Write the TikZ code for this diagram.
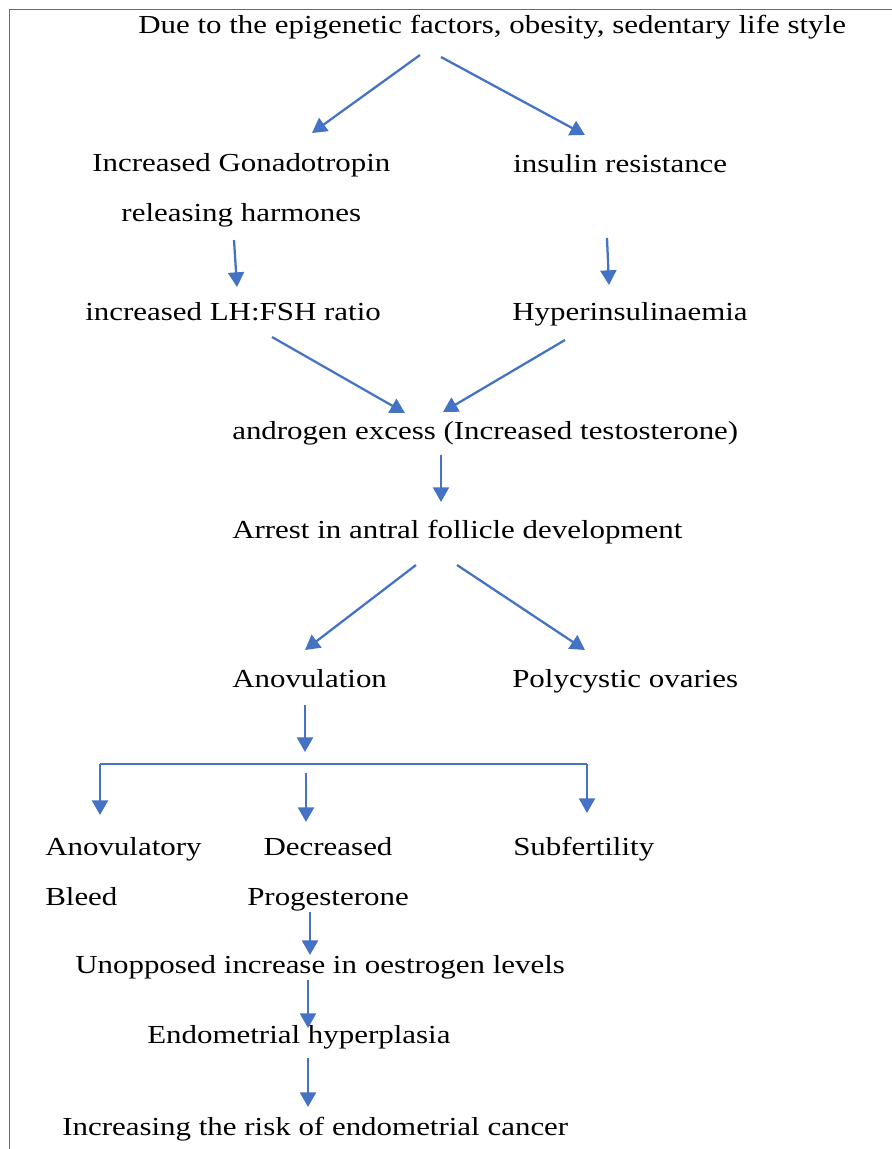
\documentclass[tikz,border=0pt]{standalone}
\usepackage{fontspec}
\setmainfont{Liberation Serif}[FakeStretch=1.19]
\definecolor{flowblue}{RGB}{68,114,196}
\definecolor{framegray}{RGB}{105,105,105}
\usetikzlibrary{arrows.meta,calc}

\begin{document}
\begin{tikzpicture}[x=0.75pt,y=-0.75pt,
  txt/.style={anchor=base west, inner sep=0pt, font={\fontsize{19.5}{37.5}\selectfont}},
  link/.style={flowblue, line width=1.7pt},
  arr/.style={link, -{Triangle[width=12pt,length=11pt]}}]
  \useasboundingbox (0,0) rectangle (892,1149);
  % Frame
  \draw[framegray, line width=1.1pt] (892,9.5) -- (9.5,9.5) -- (9.5,1149);
  % Causes
  \node[txt] (top) at (138,34) {Due to the epigenetic factors, obesity, sedentary life style};
  \node[txt, align=center] (gnrh) at (92,221) {Increased Gonadotropin\\releasing harmones};
  \node[txt] (insres) at (513,172) {insulin resistance};
  \node[txt] (lhfsh) at (85,320) {increased LH:FSH ratio};
  \node[txt] (hyperins) at (512,320) {Hyperinsulinaemia};
  \node[txt] (androgen) at (232,439) {androgen excess (Increased testosterone)};
  \node[txt] (arrest) at (232,538) {Arrest in antral follicle development};
  \node[txt] (anov) at (232,687) {Anovulation};
  \node[txt] (pco) at (512,687) {Polycystic ovaries};
  % Consequences
  \node[txt, align=left] (anobleed) at (45,905) {Anovulatory\\Bleed};
  \node[txt, align=center] (lowprog) at (247,905) {Decreased\\Progesterone};
  \node[txt] (subfert) at (513,855) {Subfertility};
  \node[txt] (oestrogen) at (75,973) {Unopposed increase in oestrogen levels};
  \node[txt] (hyperpl) at (147,1043) {Endometrial hyperplasia};
  \node[txt] (cancer) at (62,1135) {Increasing the risk of endometrial cancer};
  % Arrows
  \draw[arr] ($(top.base west)+(282,21)$) -- ($(gnrh.base west)+(220,-88)$);
  \draw[arr] ($(top.base west)+(303,23)$) -- ($(insres.base west)+(72,-37)$);
  \draw[arr] ($(gnrh.base west)+(142,19)$) -- ($(lhfsh.base west)+(152,-33)$);
  \draw[arr] ($(insres.base west)+(94,66)$) -- ($(hyperins.base west)+(97,-35)$);
  \draw[arr] ($(lhfsh.base west)+(187,17)$) -- ($(androgen.base west)+(173,-26)$);
  \draw[arr] ($(hyperins.base west)+(53,20)$) -- ($(androgen.base west)+(211,-27)$);
  \draw[arr] ($(androgen.base west)+(209,16)$) -- ($(arrest.base west)+(209,-36)$);
  \draw[arr] ($(arrest.base west)+(184,27)$) -- ($(anov.base west)+(73,-37)$);
  \draw[arr] ($(arrest.base west)+(225,27)$) -- ($(pco.base west)+(73,-37)$);
  % Split below anovulation
  \coordinate (split) at (305,752);
  \coordinate (busL) at (100,764);
  \coordinate (busR) at (587,764);
  \draw[arr] ($(anov.base west)+(73,18)$) -- (split);
  \draw[link] (busL) -- (busR);
  \draw[arr] (busL) -- ($(anobleed.base west)+(55,-90)$);
  \draw[arr] ($(split)+(1,21)$) -- ($(lowprog.base west)+(59,-83)$);
  \draw[arr] (busR) -- ($(subfert.base west)+(74,-42)$);
  \draw[arr] ($(lowprog.base west)+(63,7)$) -- ($(oestrogen.base west)+(235,-18)$);
  \draw[arr] ($(oestrogen.base west)+(233,7)$) -- ($(hyperpl.base west)+(161,-15)$);
  \draw[arr] ($(hyperpl.base west)+(161,15)$) -- ($(cancer.base west)+(246,-28)$);
\end{tikzpicture}
\end{document}
